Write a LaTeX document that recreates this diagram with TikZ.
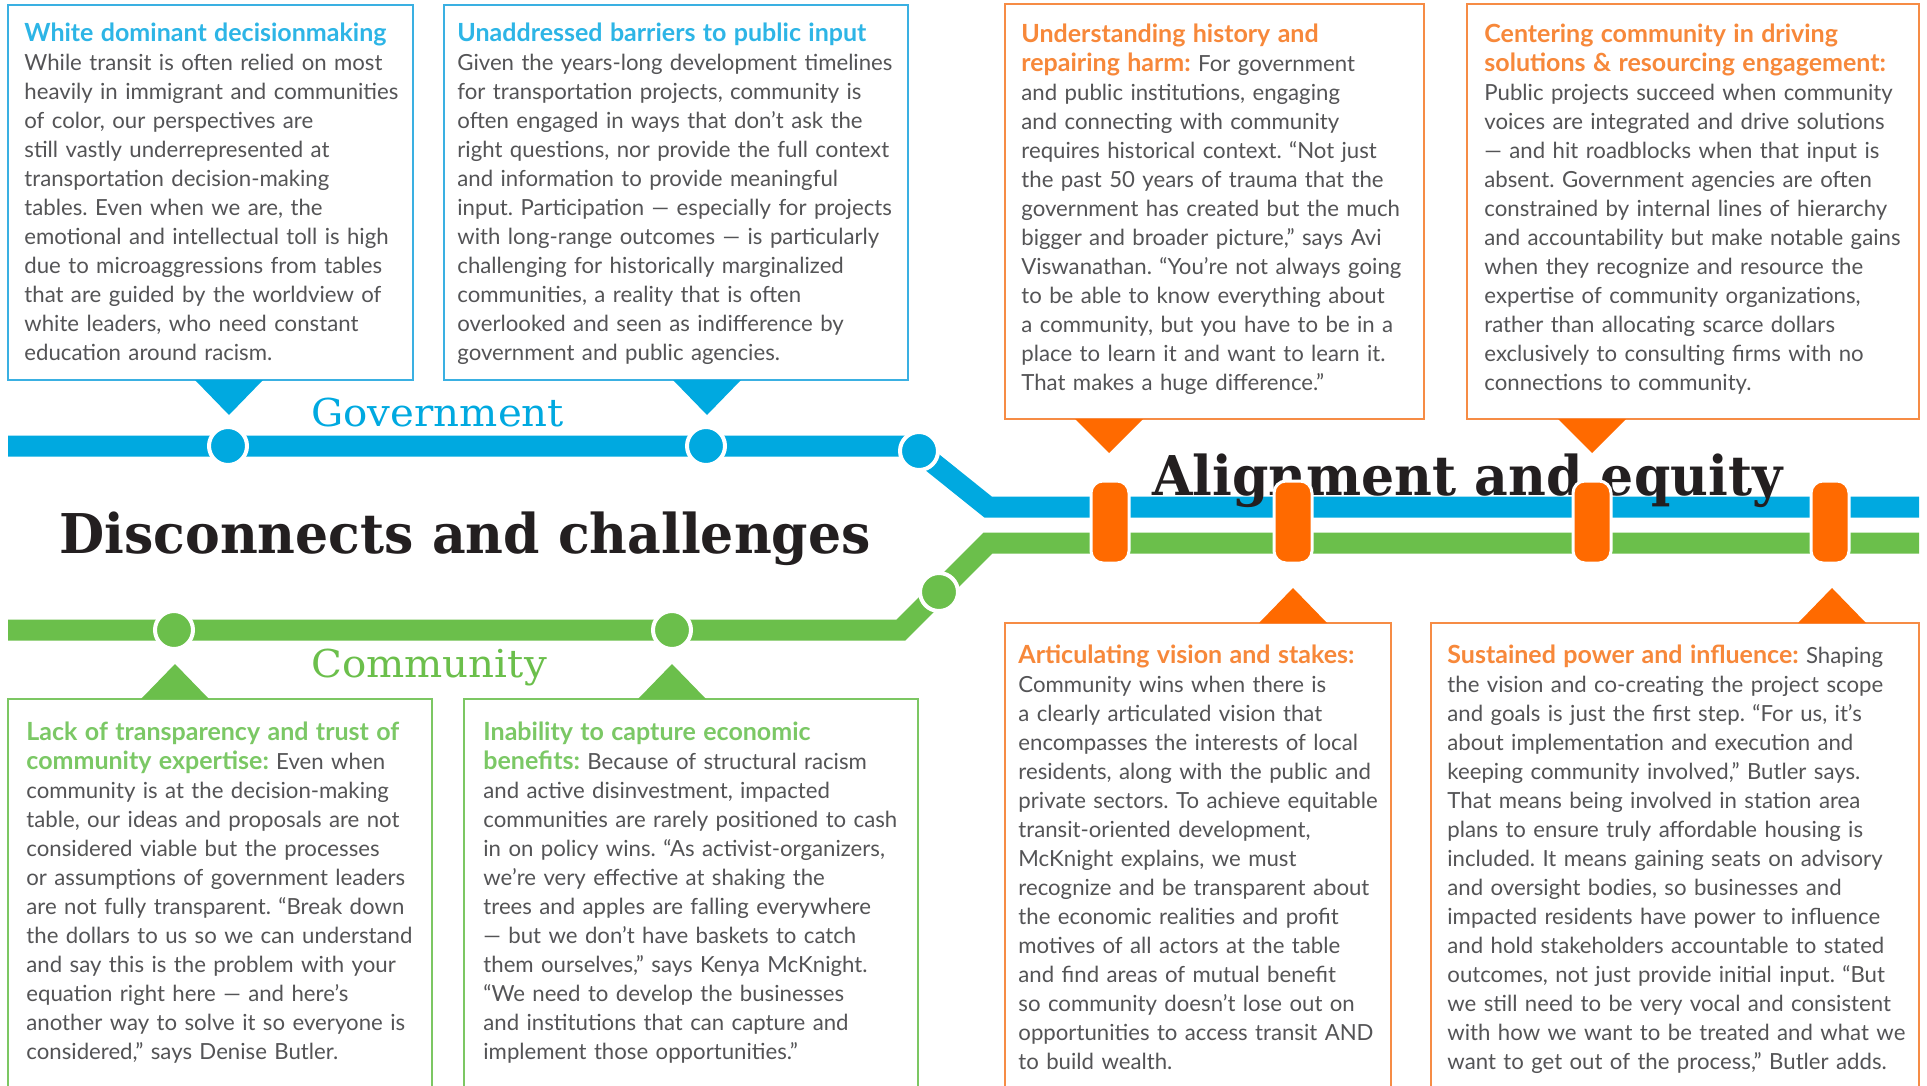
\documentclass[tikz,border=0pt]{standalone}
\usepackage{fontspec}
\setmainfont{Lato}
\newfontfamily\slab[FakeStretch=0.95]{DejaVu Serif}
\newfontfamily\slablight[FakeStretch=1.05]{DejaVu Serif}
\usetikzlibrary{calc}
\definecolor{govblue}{HTML}{00A9E0}
\definecolor{govtitle}{HTML}{2DB5E6}
\definecolor{govframe}{HTML}{3AB0E2}
\definecolor{comgreen}{HTML}{6BBF4B}
\definecolor{comtitle}{HTML}{7BC865}
\definecolor{comframe}{HTML}{7CC763}
\definecolor{eqorange}{HTML}{FF6A00}
\definecolor{eqtitle}{HTML}{F7883A}
\definecolor{eqframe}{HTML}{F68C45}
\definecolor{bodygray}{HTML}{545456}
\definecolor{headblack}{HTML}{231F20}
\frenchspacing
\newcommand\gtitle[1]{{\color{govtitle}\bfseries\fontsize{12.5}{14.5}\selectfont #1}}
\newcommand\ctitle[1]{{\color{comtitle}\bfseries\fontsize{12.5}{14.5}\selectfont #1}}
\newcommand\etitle[1]{{\color{eqtitle}\bfseries\fontsize{12.5}{14.5}\selectfont #1}}

\begin{document}
\begin{tikzpicture}[
x=0.5pt, y=-0.5pt,
frame/.style={line width=0.8pt},
blurb/.style={
	anchor=base west, inner sep=0pt,
	text width=300pt, align=left, text=bodygray,
	font=\fontsize{11.1}{14.5}\selectfont
},
track/.style={line width=10.5pt},
stop/.style={
	circle, draw=white, line width=2pt,
	minimum size=19pt, inner sep=0pt
},
pill/.style={
	rectangle, rounded corners=6pt, draw=white, line width=1.5pt,
	fill=eqorange, minimum width=19pt, minimum height=41pt, inner sep=0pt
},
headline/.style={anchor=base west, inner sep=0pt, text=headblack,
	font=\slab\bfseries\fontsize{27.4}{30}\selectfont},
linename/.style={anchor=base west, inner sep=0pt,
	font=\slablight\fontsize{19.2}{22}\selectfont}
]
\useasboundingbox (0,0) rectangle (1927,1086);
\clip (0,0) rectangle (1927,1086);
\fill[white] (0,0) rectangle (1927,1086);

% frames and pointers
\draw[frame, govframe] (8,5) rectangle (413,380);
\draw[frame, govframe] (444,5) rectangle (908,380);
\draw[frame, eqframe] (1005,4) rectangle (1424,419);
\draw[frame, eqframe] (1467,4) rectangle (1919,419);
\draw[frame, comframe] (8,699) rectangle (432,1100);
\draw[frame, comframe] (464,699) rectangle (918,1100);
\draw[frame, eqframe] (1005,623) rectangle (1391,1100);
\draw[frame, eqframe] (1431,623) rectangle (1919,1100);
\foreach \x in {229,707}
	\fill[govblue] (\x-34,380) -- (\x+34,380) -- (\x,415) -- cycle;
\foreach \x in {1109,1592}
	\fill[eqorange] (\x-34,419) -- (\x+34,419) -- (\x,453) -- cycle;
\foreach \x in {175,672}
	\fill[comgreen] (\x-34,699) -- (\x+34,699) -- (\x,664) -- cycle;
\foreach \x in {1293,1832}
	\fill[eqorange] (\x-34,623) -- (\x+34,623) -- (\x,588) -- cycle;

% lines
\coordinate (g0) at (8,446);
\coordinate (g1) at (228,446);
\coordinate (g2) at (706,446);
\coordinate (gb) at (912,446);
\coordinate (g3) at (919,451);
\coordinate (ga) at (988,507);
\coordinate (ge) at (1919,507);
\coordinate (c0) at (8,630);
\coordinate (c1) at (174,630);
\coordinate (c2) at (672,630);
\coordinate (cb) at (901,630);
\coordinate (c3) at (939,592);
\coordinate (ca) at (988,543);
\coordinate (ce) at (1919,543);
\draw[track, govblue] (g0) -- (g1) -- (g2) -- (gb) -- (ga) -- (ge);
\draw[track, comgreen] (c0) -- (c1) -- (c2) -- (cb) -- (ca) -- (ce);

\node[linename, text=govblue] (govlabel) at (311,426) {Government};
\node[linename, text=comgreen] (comlabel) at (311,677) {Community};
\node[headline] (disconnect) at (59,553) {Disconnects and challenges};
\node[headline] (align) at (1152,495) {Alignment and equity};

\foreach \s in {g1,g2,g3}
	\node[stop, fill=govblue] at (\s) {};
\foreach \s in {c1,c2,c3}
	\node[stop, fill=comgreen] at (\s) {};
\foreach \x [count=\i] in {1110,1293,1592,1830}
	\node[pill] (eq\i) at (\x,522) {};

% texts
\node[blurb] (white) at (24,42) {\gtitle{White dominant decisionmaking}\\
While transit is often relied on most\\
heavily in immigrant and communities\\
of color, our perspectives are\\
still vastly underrepresented at\\
transportation decision-making\\
tables. Even when we are, the\\
emotional and intellectual toll is high\\
due to microaggressions from tables\\
that are guided by the worldview of\\
white leaders, who need constant\\
education around racism.};
\node[blurb] (barriers) at (457,42) {\gtitle{Unaddressed barriers to public input}\\
Given the years-long development timelines\\
for transportation projects, community is\\
often engaged in ways that don’t ask the\\
right questions, nor provide the full context\\
and information to provide meaningful\\
input. Participation — especially for projects\\
with long-range outcomes — is particularly\\
challenging for historically marginalized\\
communities, a reality that is often\\
overlooked and seen as indifference by\\
government and public agencies.};
\node[blurb] (history) at (1021,43) {\etitle{Understanding history and}\\
\etitle{repairing harm:} For government\\
and public institutions, engaging\\
and connecting with community\\
requires historical context. “Not just\\
the past 50 years of trauma that the\\
government has created but the much\\
bigger and broader picture,” says Avi\\
Viswanathan. “You’re not always going\\
to be able to know everything about\\
a community, but you have to be in a\\
place to learn it and want to learn it.\\
That makes a huge difference.”};
\node[blurb] (centering) at (1484,43) {\etitle{Centering community in driving}\\
\etitle{solutions \& resourcing engagement:}\\
Public projects succeed when community\\
voices are integrated and drive solutions\\
— and hit roadblocks when that input is\\
absent. Government agencies are often\\
constrained by internal lines of hierarchy\\
and accountability but make notable gains\\
when they recognize and resource the\\
expertise of community organizations,\\
rather than allocating scarce dollars\\
exclusively to consulting firms with no\\
connections to community.};
\node[blurb] (trust) at (26,740) {\ctitle{Lack of transparency and trust of}\\
\ctitle{community expertise:} Even when\\
community is at the decision-making\\
table, our ideas and proposals are not\\
considered viable but the processes\\
or assumptions of government leaders\\
are not fully transparent. “Break down\\
the dollars to us so we can understand\\
and say this is the problem with your\\
equation right here — and here’s\\
another way to solve it so everyone is\\
considered,” says Denise Butler.};
\node[blurb] (capture) at (483,740) {\ctitle{Inability to capture economic}\\
\ctitle{benefits:} Because of structural racism\\
and active disinvestment, impacted\\
communities are rarely positioned to cash\\
in on policy wins. “As activist-organizers,\\
we’re very effective at shaking the\\
trees and apples are falling everywhere\\
— but we don’t have baskets to catch\\
them ourselves,” says Kenya McKnight.\\
“We need to develop the businesses\\
and institutions that can capture and\\
implement those opportunities.”};
\node[blurb] (vision) at (1018,663) {\etitle{Articulating vision and stakes:}\\
Community wins when there is\\
a clearly articulated vision that\\
encompasses the interests of local\\
residents, along with the public and\\
private sectors. To achieve equitable\\
transit-oriented development,\\
McKnight explains, we must\\
recognize and be transparent about\\
the economic realities and profit\\
motives of all actors at the table\\
and find areas of mutual benefit\\
so community doesn’t lose out on\\
opportunities to access transit AND\\
to build wealth.};
\node[blurb] (power) at (1447,663) {\etitle{Sustained power and influence:} Shaping\\
the vision and co-creating the project scope\\
and goals is just the first step. “For us, it’s\\
about implementation and execution and\\
keeping community involved,” Butler says.\\
That means being involved in station area\\
plans to ensure truly affordable housing is\\
included. It means gaining seats on advisory\\
and oversight bodies, so businesses and\\
impacted residents have power to influence\\
and hold stakeholders accountable to stated\\
outcomes, not just provide initial input. “But\\
we still need to be very vocal and consistent\\
with how we want to be treated and what we\\
want to get out of the process,” Butler adds.};
\end{tikzpicture}
\end{document}
